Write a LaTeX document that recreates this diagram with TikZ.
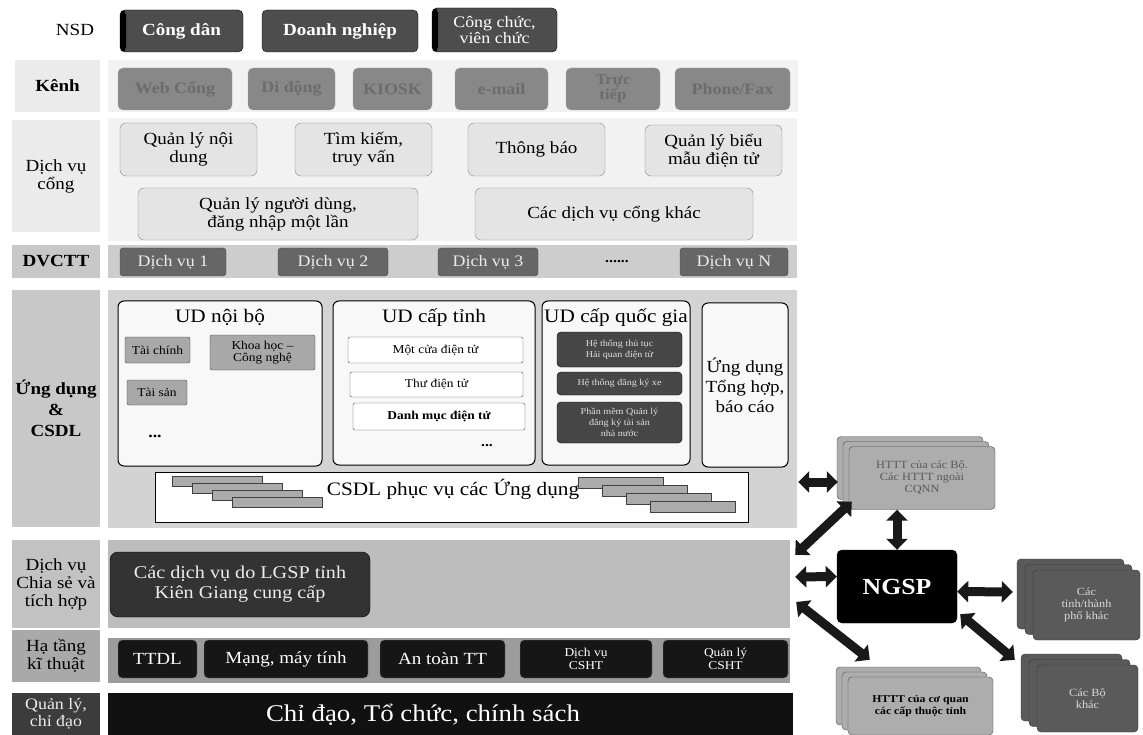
\documentclass[tikz,border=0pt]{standalone}
\usepackage{fontspec}
\setmainfont{Liberation Serif}[FakeStretch=1.12]
\usepackage{xcolor}
\usepackage{tikz}
\usetikzlibrary{positioning,arrows.meta,shadows}

\definecolor{usergray}{HTML}{4D4D4D}
\definecolor{labA}{HTML}{EBEBEB}
\definecolor{bandA}{HTML}{F2F2F2}
\definecolor{chanfill}{HTML}{888888}
\definecolor{chantext}{HTML}{6C6C6C}
\definecolor{portalfill}{HTML}{E4E4E4}
\definecolor{portaldraw}{HTML}{8A8A8A}
\definecolor{labB}{HTML}{C8C8C8}
\definecolor{bandB}{HTML}{CDCDCD}
\definecolor{dvfill}{HTML}{666666}
\definecolor{bandC}{HTML}{D3D3D3}
\definecolor{contfill}{HTML}{F8F8F8}
\definecolor{smallfill}{HTML}{A8A8A8}
\definecolor{natfill}{HTML}{474747}
\definecolor{slabfill}{HTML}{ABABAB}
\definecolor{labC}{HTML}{C2C2C2}
\definecolor{bandD}{HTML}{BDBDBD}
\definecolor{lgspfill}{HTML}{333333}
\definecolor{labD}{HTML}{A9A9A9}
\definecolor{bandE}{HTML}{9C9C9C}
\definecolor{infrafill}{HTML}{161616}
\definecolor{labE}{HTML}{3C3C3C}
\definecolor{mgmtfill}{HTML}{111111}
\definecolor{extlight}{HTML}{ADADAD}
\definecolor{extdark}{HTML}{5A5A5A}

\newcommand{\fsz}[2]{\fontsize{#1}{#2}\selectfont}

\begin{document}
\begin{tikzpicture}[
    x=1pt, y=-1pt,
    every node/.style={align=center, inner sep=1pt},
    lab_box/.style={minimum width=88pt, font=\fsz{17}{18}},
    band_box/.style={minimum width=689pt},
    user_box/.style={draw=black, fill=usergray, text=white, rounded corners=5pt, minimum height=42pt, font=\bfseries\fsz{17}{18}},
    user_edge/.style={user_box, path picture={\fill[black] (path picture bounding box.north west) rectangle ([xshift=6pt]path picture bounding box.south west);}},
    chan_box/.style={draw=gray!70, fill=chanfill, text=chantext, rounded corners=5pt, minimum height=42pt, font=\bfseries\fsz{16}{17}},
    portal_box/.style={draw=portaldraw, fill=portalfill, rounded corners=6pt, font=\fsz{17}{18}},
    dv_box/.style={draw=gray!60!black, fill=dvfill, text=white!85!gray, rounded corners=3pt, minimum height=28pt, font=\fsz{16}{17}},
    cont_box/.style={draw=black, line width=1pt, fill=contfill, rounded corners=6pt},
    title_txt/.style={font=\fsz{19}{20}},
    small_box/.style={draw=black!75, fill=smallfill, rounded corners=2pt, font=\fsz{12}{12}},
    white_box/.style={draw=black!70, fill=white, rounded corners=2pt, font=\fsz{12}{13}},
    nat_box/.style={draw=black, fill=natfill, text=white!75!gray, rounded corners=4pt, font=\fsz{9}{11}, minimum width=125pt},
    slab/.style={fill=slabfill, draw=gray!50!black, line width=0.6pt},
    infra_box/.style={draw=gray, fill=infrafill, text=white, rounded corners=4pt, minimum height=38pt, font=\fsz{17}{18}},
    ext_light/.style={fill=extlight, draw=gray!60!black, rounded corners=4pt, text=black!65, font=\fsz{11}{12},
        general shadow={shadow xshift=-12pt, shadow yshift=10pt, fill=extlight, draw=gray!60!black},
        general shadow={shadow xshift=-6pt, shadow yshift=5pt, fill=extlight, draw=gray!60!black}},
    ext_dark/.style={fill=extdark, draw=black!80, rounded corners=4pt, text=white!70!gray, font=\fsz{11}{12},
        general shadow={shadow xshift=-16pt, shadow yshift=11pt, fill=extdark, draw=black!80},
        general shadow={shadow xshift=-8pt, shadow yshift=5.5pt, fill=extdark, draw=black!80}},
    fat_arrow/.style={{Triangle[length=11pt,width=21pt]}-{Triangle[length=11pt,width=21pt]}, line width=9pt, draw=black!90}
]

\fill [white] (0,0) rectangle (1143,735);
\useasboundingbox (0,0) rectangle (1143,735);

% Row: NSD
\node (lab_nsd) at (75,30) [font=\fsz{17}{18}] {NSD};
\node (u_cdan) at (181.5,31) [user_edge, minimum width=123pt] {Công dân};
\node (u_dnghiep) at (340,31) [user_box, minimum width=156pt] {Doanh nghiệp};
\node (u_ccvc) at (494.5,30) [user_edge, minimum width=125pt, minimum height=44pt, font=\fsz{16}{16}] {Công chức,\\viên chức};

% Row: Kenh
\node (lab_kenh) at (57.5,86) [lab_box, fill=labA, minimum width=85pt, minimum height=52pt, font=\bfseries\fsz{17}{18}] {Kênh};
\node (band_kenh) at (453,86) [band_box, fill=bandA, minimum width=690pt, minimum height=52pt] {};
\node (k_web) at (175,89) [chan_box, minimum width=114pt] {Web Cổng};
\node (k_mobile) at (291.5,89) [chan_box, minimum width=87pt] {Di động};
\node (k_kiosk) at (392.5,89) [chan_box, minimum width=79pt] {KIOSK};
\node (k_mail) at (501.5,89) [chan_box, minimum width=93pt] {e-mail};
\node (k_direct) at (613,89) [chan_box, minimum width=94pt, font=\bfseries\fsz{15}{15}] {Trực\\tiếp};
\node (k_phone) at (732.5,89) [chan_box, minimum width=115pt] {Phone/Fax};

% Row: Dich vu cong
\node (lab_cong) at (56,176) [lab_box, fill=labA, minimum height=112pt] {Dịch vụ\\cổng};
\node (band_cong) at (452.5,179.5) [band_box, fill=bandA, minimum height=123pt] {};
\node (p_content) at (188.5,149.5) [portal_box, minimum width=137pt, minimum height=53pt] {Quản lý nội\\dung};
\node (p_search) at (363.5,149.5) [portal_box, minimum width=137pt, minimum height=53pt] {Tìm kiếm,\\truy vấn};
\node (p_notify) at (536.5,149.5) [portal_box, minimum width=137pt, minimum height=53pt] {Thông báo};
\node (p_form) at (713.5,150.5) [portal_box, minimum width=137pt, minimum height=51pt] {Quản lý biểu\\mẫu điện tử};
\node (p_user) at (278,214) [portal_box, minimum width=280pt, minimum height=52pt] {Quản lý người dùng,\\đăng nhập một lần};
\node (p_other) at (614,214) [portal_box, minimum width=278pt, minimum height=52pt] {Các dịch vụ cổng khác};

% Row: DVCTT
\node (lab_dvctt) at (56,261.5) [lab_box, fill=labB, minimum height=33pt, font=\bfseries\fsz{17}{18}] {DVCTT};
\node (band_dvctt) at (452.5,261.5) [band_box, fill=bandB, minimum height=33pt] {};
\node (dv_1) at (173,262) [dv_box, minimum width=106pt] {Dịch vụ 1};
\node (dv_2) at (333,262) [dv_box, minimum width=110pt] {Dịch vụ 2};
\node (dv_3) at (488,262) [dv_box, minimum width=100pt] {Dịch vụ 3};
\node (dv_dots) at (617,262) [font=\bfseries\fsz{14}{14}] {......};
\node (dv_n) at (734,262) [dv_box, minimum width=108pt] {Dịch vụ N};

% Row: Ung dung & CSDL
\node (lab_app) at (56,408.5) [lab_box, fill=labB, minimum height=237pt, font=\bfseries\fsz{17}{21}] {Ứng dụng\\\&\\CSDL};
\node (band_app) at (452.5,409) [band_box, fill=bandC, minimum height=238pt] {};
\node (ud_noibo) at (220,383.5) [cont_box, minimum width=204pt, minimum height=165pt] {};
\node (ud_tinh) at (434,383) [cont_box, minimum width=202pt, minimum height=164pt] {};
\node (ud_qg) at (616,383) [cont_box, minimum width=148pt, minimum height=164pt] {};
\node (ud_tonghop) at (745,385) [cont_box, minimum width=86pt, minimum height=164pt, font=\fsz{17}{20}] {Ứng dụng\\Tổng hợp,\\báo cáo};

\node (t_noibo) at (220,317) [title_txt] {UD nội bộ};
\node (nb_tc) at (157.5,350) [small_box, minimum width=65pt, minimum height=26pt] {Tài chính};
\node (nb_khcn) at (262.5,352.5) [small_box, minimum width=105pt, minimum height=35pt] {Khoa học –\\Công nghệ};
\node (nb_ts) at (157,392.5) [small_box, minimum width=60pt, minimum height=25pt] {Tài sản};
\node (nb_dots) at (155,436) [font=\bfseries\fsz{16}{16}] {...};

\node (t_tinh) at (434,318) [title_txt] {UD cấp tỉnh};
\node (tinh_mc) at (435.5,350) [white_box, minimum width=175pt, minimum height=26pt] {Một cửa điện tử};
\node (tinh_thu) at (436.5,384.5) [white_box, minimum width=173pt, minimum height=25pt] {Thư điện tử};
\node (tinh_dm) at (439,416.5) [white_box, minimum width=172pt, minimum height=27pt, font=\bfseries\fsz{12}{13}] {Danh mục điện tử};
\node (tinh_dots) at (487,446) [font=\bfseries\fsz{14}{14}] {...};

\node (t_qg) at (616,318) [title_txt] {UD cấp quốc gia};
\node (qg_hq) at (619.5,349.5) [nat_box, minimum height=35pt] {Hệ thống thủ tục\\Hải quan điện tử};
\node (qg_dk) at (619.5,383.5) [nat_box, minimum height=23pt] {Hệ thống đăng ký xe};
\node (qg_ts) at (619.5,422.5) [nat_box, minimum height=41pt] {Phần mềm Quản lý\\đăng ký tài sản\\nhà nước};

\node (csdl) at (451.5,497) [draw=black, line width=1pt, fill=white, minimum width=593pt, minimum height=50pt] {};
\foreach \i in {0,...,3} {
  \filldraw [slab] (172+20*\i,476+7*\i) rectangle ++(90,10);
  \filldraw [slab] (578+24*\i,477+8*\i) rectangle ++(85,11);
}
\node (t_csdl) at (453,489) [font=\fsz{19}{20}] {CSDL phục vụ các Ứng dụng};

% Row: Dich vu chia se va tich hop
\node (lab_share) at (56,584) [lab_box, fill=labC, minimum height=88pt] {Dịch vụ\\Chia sẻ và\\tích hợp};
\node (band_share) at (449,584) [fill=bandD, minimum width=682pt, minimum height=88pt] {};
\node (lgsp) at (240,584.5) [draw=black, fill=lgspfill, text=white!85!gray, rounded corners=8pt, minimum width=260pt, minimum height=65pt, font=\fsz{18}{20}] {Các dịch vụ do LGSP tỉnh\\Kiên Giang cung cấp};

% Row: Ha tang ki thuat
\node (lab_infra) at (56,656) [lab_box, fill=labD, minimum height=52pt] {Hạ tầng\\kĩ thuật};
\node (band_infra) at (449,660.5) [fill=bandE, minimum width=682pt, minimum height=45pt] {};
\node (ht_ttdl) at (157.5,659) [infra_box, minimum width=79pt] {TTDL};
\node (ht_mang) at (286,659) [infra_box, minimum width=164pt] {Mạng, máy tính};
\node (ht_attt) at (442.5,659) [infra_box, minimum width=125pt] {An toàn TT};
\node (ht_dvcsht) at (586,659) [infra_box, minimum width=132pt, font=\fsz{12}{13}] {Dịch vụ\\CSHT};
\node (ht_qlcsht) at (725.5,659) [infra_box, minimum width=125pt, font=\fsz{12}{13}] {Quản lý\\CSHT};

% Row: Quan ly, chi dao
\node (lab_mgmt) at (56,714) [lab_box, fill=labE, text=white!85!gray, minimum height=42pt, font=\fsz{16}{17}] {Quản lý,\\chỉ đạo};
\node (band_mgmt) at (450.5,714) [fill=mgmtfill, minimum width=685pt, minimum height=42pt] {};
\node (t_mgmt) at (423,715) [text=white, font=\fsz{24}{25}] {Chỉ đạo, Tổ chức, chính sách};

% External systems
\node (httt_bo) at (922,478) [ext_light, minimum width=146pt, minimum height=63pt] {HTTT của các Bộ.\\Các HTTT ngoài\\CQNN};
\node (ngsp) at (897,586.5) [draw=black, fill=black, text=white, rounded corners=5pt, minimum width=120pt, minimum height=73pt, font=\bfseries\fsz{23}{24}] {NGSP};
\node (tinh_khac) at (1086.5,605) [ext_dark, minimum width=107pt, minimum height=70pt] {Các\\tỉnh/thành\\phố khác};
\node (bo_khac) at (1087.5,698.5) [ext_dark, minimum width=101pt, minimum height=67pt] {Các Bộ\\khác};
\node (httt_tinh) at (920.5,706) [ext_light, minimum width=145pt, minimum height=58pt, text=black, font=\bfseries\fsz{10.5}{12}] {HTTT của cơ quan\\các cấp thuộc tỉnh};

% Connections
\draw [fat_arrow] ([shift={(1,73)}]band_app.east) -- ([shift={(-11,4)}]httt_bo.west);
\draw [fat_arrow] ([shift={(5,15)}]band_share.north east) -- ([shift={(3,-8)}]httt_bo.south west);
\draw [fat_arrow] ([shift={(5,-7)}]band_share.east) -- ([shift={(0,-10)}]ngsp.west);
\draw [fat_arrow] ([shift={(6,18)}]band_share.east) -- ([shift={(22,-17)}]httt_tinh.north west);
\draw [fat_arrow] (ngsp.north) -- (ngsp.north |- httt_bo.south);
\draw [fat_arrow] ([shift={(0,5)}]ngsp.east) -- ([shift={(-20,-13)}]tinh_khac.west);
\draw [fat_arrow] ([shift={(3,-9)}]ngsp.south east) -- ([shift={(-22,-5)}]bo_khac.north west);

\end{tikzpicture}
\end{document}
